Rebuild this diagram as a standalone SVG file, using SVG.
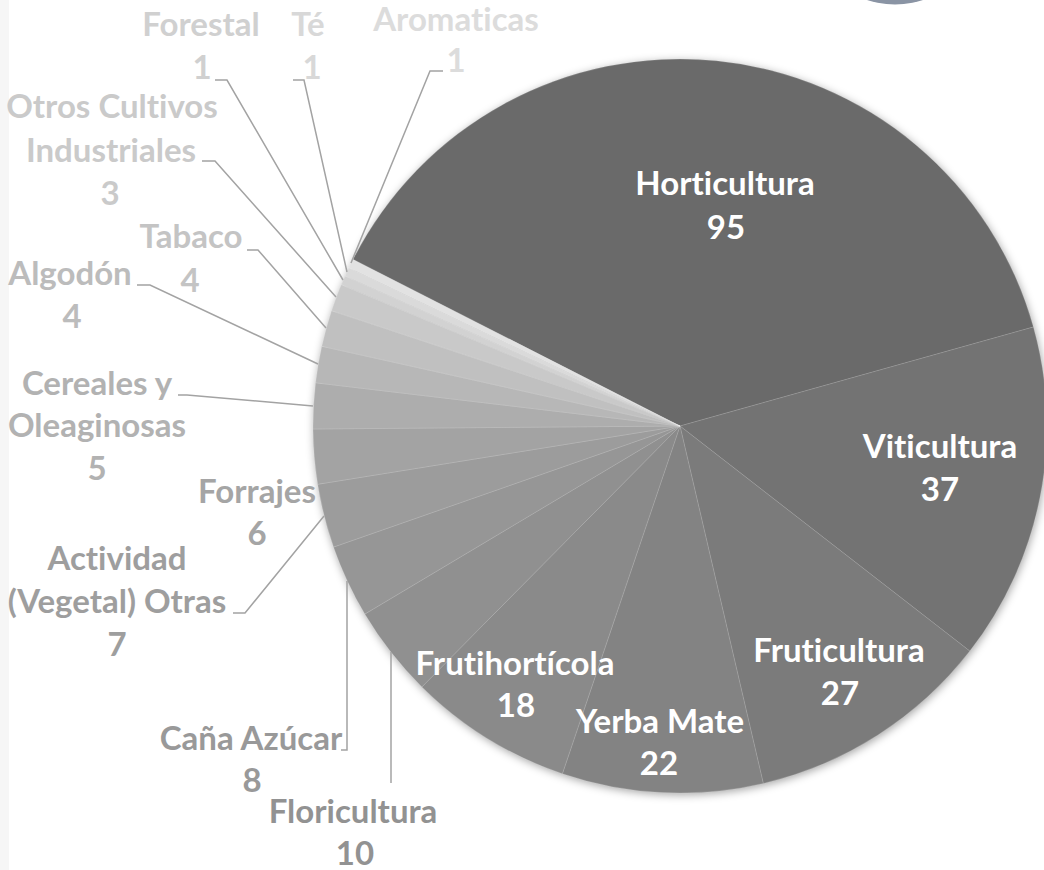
<svg xmlns="http://www.w3.org/2000/svg" width="1044" height="870" viewBox="0 0 1044 870">
<defs>
<style>
text{font-family:Lato,"Liberation Sans",sans-serif;font-weight:bold;font-size:33px;text-anchor:middle;font-variant-ligatures:none;font-feature-settings:"liga" 0,"clig" 0}
.in{fill:#ffffff}
.sl{stroke:#ffffff;stroke-opacity:0.2;stroke-width:0.7}
.ld{fill:none;stroke:#a3a3a3;stroke-width:1.5}
</style>
<filter id="sh" x="-10%" y="-10%" width="120%" height="120%">
<feGaussianBlur stdDeviation="4"/>
</filter>
</defs>
<rect width="1044" height="870" fill="#ffffff"/>
<rect x="0" y="0" width="9" height="870" fill="#f6f6f6"/>
<circle cx="895" cy="-85" r="89.5" fill="#8a94a4"/>
<circle cx="681" cy="428" r="367" fill="#000000" fill-opacity="0.35" filter="url(#sh)"/>
<g id="pie">
<g id="s-horticultura"><path class="sl" fill="#6a6a6a" d="M680,426 L353.0,259.4 A367,367 0 0 1 1033.4,327.0 Z"/></g>
<g id="s-viticultura"><path class="sl" fill="#737373" d="M680,426 L1033.4,327.0 A367,367 0 0 1 969.8,651.1 Z"/></g>
<g id="s-fruticultura"><path class="sl" fill="#7b7b7b" d="M680,426 L969.8,651.1 A367,367 0 0 1 763.3,783.4 Z"/></g>
<g id="s-yerba"><path class="sl" fill="#838383" d="M680,426 L763.3,783.4 A367,367 0 0 1 562.4,773.7 Z"/></g>
<g id="s-frutihorticola"><path class="sl" fill="#8a8a8a" d="M680,426 L562.4,773.7 A367,367 0 0 1 421.9,686.9 Z"/></g>
<g id="s-floricultura"><path class="sl" fill="#909090" d="M680,426 L421.9,686.9 A367,367 0 0 1 364.8,614.1 Z"/></g>
<g id="s-cana"><path class="sl" fill="#969696" d="M680,426 L364.8,614.1 A367,367 0 0 1 333.5,547.1 Z"/></g>
<g id="s-actividad"><path class="sl" fill="#9c9c9c" d="M680,426 L333.5,547.1 A367,367 0 0 1 317.7,484.3 Z"/></g>
<g id="s-forrajes"><path class="sl" fill="#a3a3a3" d="M680,426 L317.7,484.3 A367,367 0 0 1 313.0,429.0 Z"/></g>
<g id="s-cereales"><path class="sl" fill="#adadad" d="M680,426 L313.0,429.0 A367,367 0 0 1 315.6,382.8 Z"/></g>
<g id="s-algodon"><path class="sl" fill="#b7b7b7" d="M680,426 L315.6,382.8 A367,367 0 0 1 321.8,346.3 Z"/></g>
<g id="s-tabaco"><path class="sl" fill="#c0c0c0" d="M680,426 L321.8,346.3 A367,367 0 0 1 331.6,310.7 Z"/></g>
<g id="s-otros"><path class="sl" fill="#c9c9c9" d="M680,426 L331.6,310.7 A367,367 0 0 1 341.3,284.6 Z"/></g>
<g id="s-forestal"><path class="sl" fill="#d2d2d2" d="M680,426 L341.3,284.6 A367,367 0 0 1 345.1,276.0 Z"/></g>
<g id="s-te"><path class="sl" fill="#dadada" d="M680,426 L345.1,276.0 A367,367 0 0 1 348.9,267.7 Z"/></g>
<g id="s-aromaticas"><path class="sl" fill="#e2e2e2" d="M680,426 L348.9,267.7 A367,367 0 0 1 353.0,259.4 Z"/></g>
</g>
<g id="connectors">
<polyline class="ld" points="443,71 430,71 351,263"/>
<polyline class="ld" points="293,80 304,80 347,272"/>
<polyline class="ld" points="215,80 227,80 343,280"/>
<polyline class="ld" points="202,161 215,161 336,297"/>
<polyline class="ld" points="247,250 258,250 326,328"/>
<polyline class="ld" points="137,285 150,285 318,364"/>
<polyline class="ld" points="178,395 187,395 313,406"/>
<polyline class="ld" points="233,613 245,613 324,516"/>
<polyline class="ld" points="341,750 347,750 347,581"/>
<polyline class="ld" points="391,783 391,652"/>
</g>
<g id="labels-in">
<g id="l-horticultura"><text class="in" x="725" y="195">Horticultura</text><text class="in" x="726" y="239">95</text></g>
<g id="l-viticultura"><text class="in" x="940" y="458">Viticultura</text><text class="in" x="940" y="501">37</text></g>
<g id="l-fruticultura"><text class="in" x="839" y="662">Fruticultura</text><text class="in" x="840" y="705">27</text></g>
<g id="l-yerba"><text class="in" x="660" y="733">Yerba Mate</text><text class="in" x="659" y="775">22</text></g>
<g id="l-frutihorticola"><text class="in" x="515" y="675">Frutihortícola</text><text class="in" x="516" y="717">18</text></g>
</g>
<g id="labels-out">
<g id="l-floricultura" fill="#929292"><text x="353" y="823">Floricultura</text><text x="355" y="865">10</text></g>
<g id="l-cana" fill="#999999"><text x="251" y="750">Caña Azúcar</text><text x="252" y="792">8</text></g>
<g id="l-actividad" fill="#9e9e9e"><text x="117" y="570">Actividad</text><text x="117" y="613">(Vegetal) Otras</text><text x="117" y="656">7</text></g>
<g id="l-forrajes" fill="#a5a5a5"><text x="257" y="503">Forrajes</text><text x="257" y="545">6</text></g>
<g id="l-cereales" fill="#b2b2b2"><text x="97" y="395">Cereales y</text><text x="97" y="437">Oleaginosas</text><text x="97" y="480">5</text></g>
<g id="l-algodon" fill="#bcbcbc"><text x="70" y="285">Algodón</text><text x="72" y="328">4</text></g>
<g id="l-tabaco" fill="#c4c4c4"><text x="191" y="248">Tabaco</text><text x="190" y="292">4</text></g>
<g id="l-otros" fill="#cacaca"><text x="112" y="118">Otros Cultivos</text><text x="111" y="162">Industriales</text><text x="110" y="205">3</text></g>
<g id="l-forestal" fill="#d0d0d0"><text x="201" y="36">Forestal</text><text x="202" y="79">1</text></g>
<g id="l-te" fill="#d8d8d8"><text x="308" y="36">Té</text><text x="312" y="79">1</text></g>
<g id="l-aromaticas" fill="#dcdcdc"><text x="456" y="31">Aromaticas</text><text x="456" y="72">1</text></g>
</g>
</svg>
